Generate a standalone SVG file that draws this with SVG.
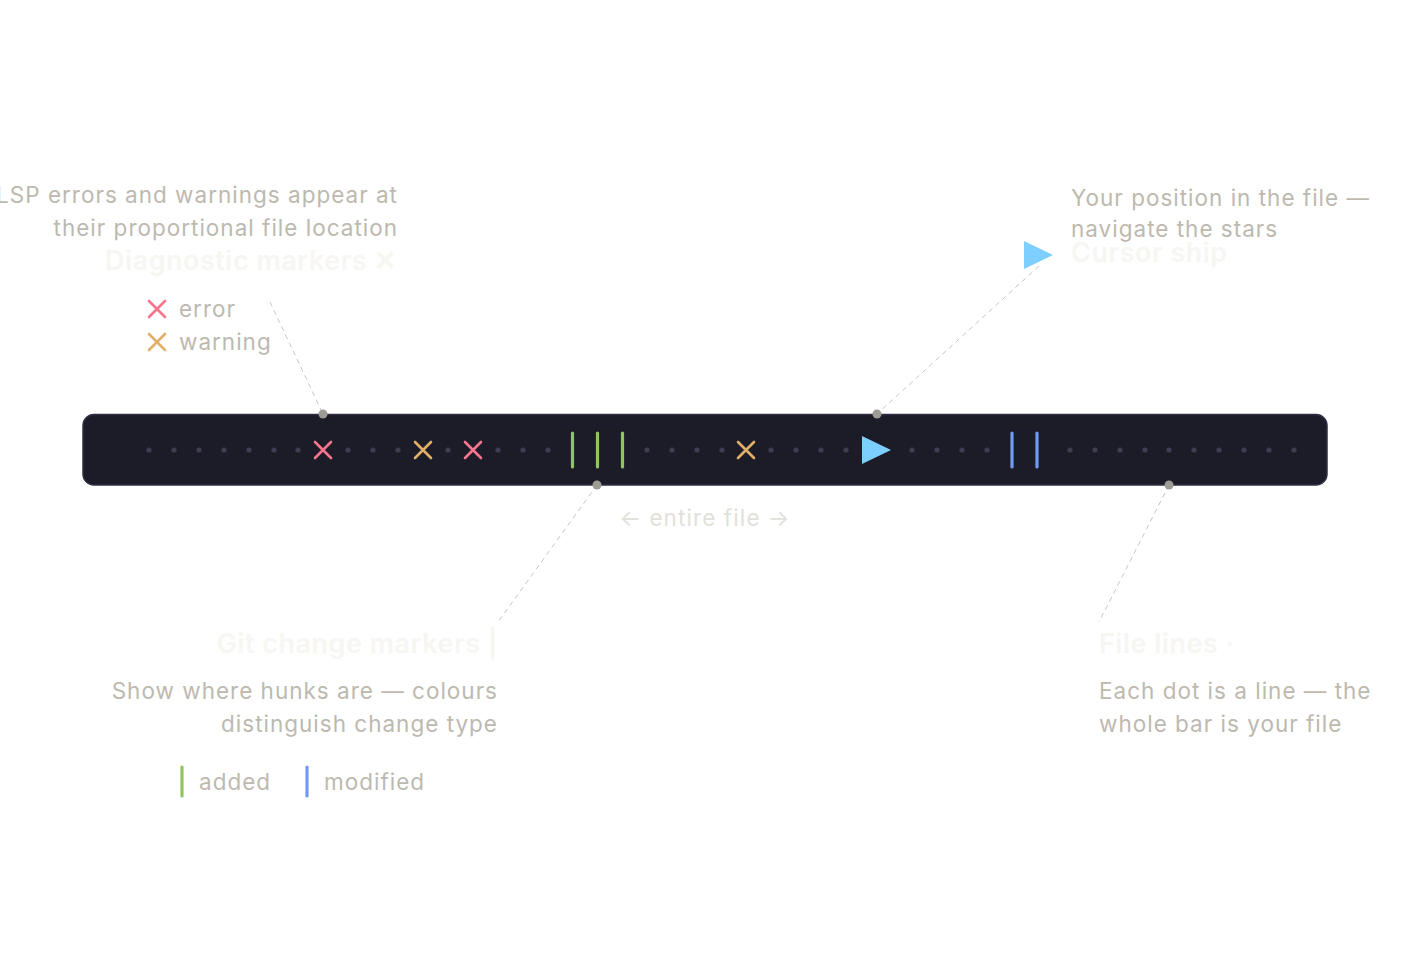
<svg xmlns="http://www.w3.org/2000/svg" width="1410" height="954" viewBox="0 0 1410 954">
<defs>
<style>
text{font-family:Inter,"Noto Sans","Liberation Sans",sans-serif}
.t{fill:#bdb9af;font-size:22.5px;letter-spacing:1px}
.faint{fill:#f7f6f2;font-size:27px;font-weight:600;letter-spacing:0.5px}
.hint{fill:#e2e0da;font-size:22.5px;letter-spacing:1.1px}
.dot{fill:#3d3e52}
.err{stroke:#f7768e;stroke-width:2.6;stroke-linecap:round;fill:none}
.warn{stroke:#e0af68;stroke-width:2.6;stroke-linecap:round;fill:none}
.add{stroke:#8fc463;stroke-width:3.2;stroke-linecap:round}
.mod{stroke:#6f9bf2;stroke-width:3.2;stroke-linecap:round}
.ship{fill:#7dcfff}
.lead{stroke:#c9c7c0;stroke-width:1;stroke-dasharray:5 4;fill:none}
.anchor{fill:#9d9b93}
</style>
</defs>
<rect width="1410" height="954" fill="#ffffff"/>

<g id="bar">
<rect x="83" y="414.5" width="1244" height="70.5" rx="11" fill="#1c1c29" stroke="#2e2f44" stroke-width="1.5"/>
<g id="dots">
<circle class="dot" cx="149" cy="450" r="2.6"/><circle class="dot" cx="174" cy="450" r="2.6"/><circle class="dot" cx="199" cy="450" r="2.6"/><circle class="dot" cx="224" cy="450" r="2.6"/><circle class="dot" cx="249" cy="450" r="2.6"/><circle class="dot" cx="274" cy="450" r="2.6"/><circle class="dot" cx="298" cy="450" r="2.6"/>
<circle class="dot" cx="348" cy="450" r="2.6"/><circle class="dot" cx="373" cy="450" r="2.6"/><circle class="dot" cx="398" cy="450" r="2.6"/>
<circle class="dot" cx="448" cy="450" r="2.6"/>
<circle class="dot" cx="498" cy="450" r="2.6"/><circle class="dot" cx="523" cy="450" r="2.6"/><circle class="dot" cx="548" cy="450" r="2.6"/>
<circle class="dot" cx="647" cy="450" r="2.6"/><circle class="dot" cx="672" cy="450" r="2.6"/><circle class="dot" cx="697" cy="450" r="2.6"/><circle class="dot" cx="722" cy="450" r="2.6"/>
<circle class="dot" cx="771" cy="450" r="2.6"/><circle class="dot" cx="796" cy="450" r="2.6"/><circle class="dot" cx="821" cy="450" r="2.6"/><circle class="dot" cx="846" cy="450" r="2.6"/>
<circle class="dot" cx="912" cy="450" r="2.6"/><circle class="dot" cx="937" cy="450" r="2.6"/><circle class="dot" cx="962" cy="450" r="2.6"/><circle class="dot" cx="987" cy="450" r="2.6"/>
<circle class="dot" cx="1070" cy="450" r="2.6"/><circle class="dot" cx="1095" cy="450" r="2.6"/><circle class="dot" cx="1120" cy="450" r="2.6"/><circle class="dot" cx="1145" cy="450" r="2.6"/><circle class="dot" cx="1169" cy="450" r="2.6"/><circle class="dot" cx="1194" cy="450" r="2.6"/><circle class="dot" cx="1219" cy="450" r="2.6"/><circle class="dot" cx="1244" cy="450" r="2.6"/><circle class="dot" cx="1269" cy="450" r="2.6"/><circle class="dot" cx="1294" cy="450" r="2.6"/>
</g>
<g id="diagnostics">
<path class="err" d="M315 442L331 458M331 442L315 458"/>
<path class="warn" d="M415 442L431 458M431 442L415 458"/>
<path class="err" d="M465 442L481 458M481 442L465 458"/>
<path class="warn" d="M738 442L754 458M754 442L738 458"/>
</g>
<g id="git">
<line class="add" x1="572.5" y1="433" x2="572.5" y2="467"/>
<line class="add" x1="597.5" y1="433" x2="597.5" y2="467"/>
<line class="add" x1="622.5" y1="433" x2="622.5" y2="467"/>
<line class="mod" x1="1012" y1="433" x2="1012" y2="467"/>
<line class="mod" x1="1037" y1="433" x2="1037" y2="467"/>
</g>
<polygon id="cursor" class="ship" points="862,436 891,450 862,464"/>
</g>

<g id="connectors">
<line class="lead" x1="270" y1="302" x2="323" y2="414"/>
<line class="lead" x1="1039" y1="266" x2="877" y2="414"/>
<line class="lead" x1="597" y1="485" x2="498" y2="622"/>
<line class="lead" x1="1169" y1="485" x2="1099" y2="622"/>
<circle class="anchor" cx="323" cy="414" r="4.5"/>
<circle class="anchor" cx="877" cy="414" r="4.5"/>
<circle class="anchor" cx="597" cy="485" r="4.5"/>
<circle class="anchor" cx="1169" cy="485" r="4.5"/>
</g>

<g id="diagnostic-note">
<text class="t" x="398" y="203" text-anchor="end">LSP errors and warnings appear at</text>
<text class="t" x="398" y="236" text-anchor="end">their proportional file location</text>
<text class="faint" x="398" y="270" text-anchor="end">Diagnostic markers ✕</text>
<path class="err" d="M149 301L165 317M165 301L149 317"/>
<text class="t" x="179" y="317">error</text>
<path class="warn" d="M149 334L165 350M165 334L149 350"/>
<text class="t" x="179" y="350">warning</text>
</g>

<g id="cursor-note">
<text class="t" x="1071" y="206">Your position in the file —</text>
<text class="t" x="1071" y="237">navigate the stars</text>
<text class="faint" x="1071" y="262">Cursor ship</text>
<polygon class="ship" points="1024,241 1053,255 1024,269"/>
</g>

<g id="span-label">
<text class="hint" x="705" y="526" text-anchor="middle">← entire file →</text>
</g>

<g id="git-note">
<text class="faint" x="498" y="653" text-anchor="end">Git change markers |</text>
<text class="t" x="498" y="699" text-anchor="end">Show where hunks are — colours</text>
<text class="t" x="498" y="732" text-anchor="end">distinguish change type</text>
<line class="add" x1="182" y1="767" x2="182" y2="796"/>
<text class="t" x="199" y="790">added</text>
<line class="mod" x1="307" y1="767" x2="307" y2="796"/>
<text class="t" x="324" y="790">modified</text>
</g>

<g id="lines-note">
<text class="faint" x="1099" y="653">File lines ·</text>
<text class="t" x="1099" y="699">Each dot is a line — the</text>
<text class="t" x="1099" y="732">whole bar is your file</text>
</g>
</svg>
